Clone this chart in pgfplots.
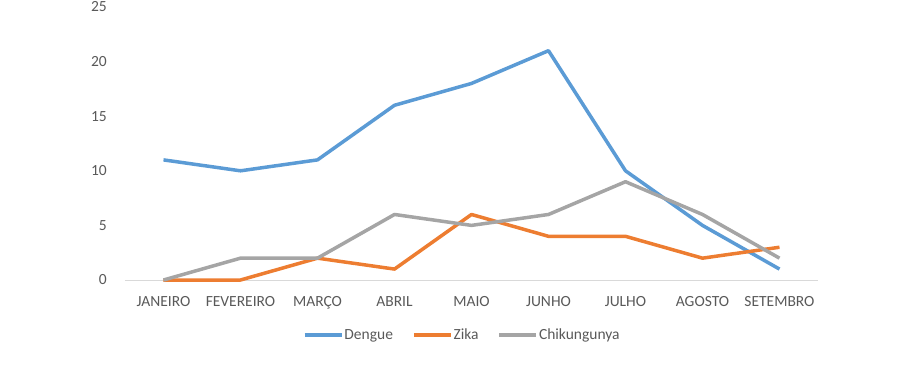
\documentclass[border=0pt]{standalone}
\usepackage{pgfplots}
\pgfplotsset{compat=1.18}
\usepackage{fontspec}
\setmainfont{Carlito}
\definecolor{cDengue}{HTML}{5B9BD5}
\definecolor{cZika}{HTML}{ED7D31}
\definecolor{cChik}{HTML}{A5A5A5}
\definecolor{tgray}{HTML}{595959}
\definecolor{agray}{HTML}{D9D9D9}
\begin{document}
\begin{tikzpicture}
\begin{axis}[
  at={(0pt,0pt)}, anchor=south west,
  scale only axis, width=693pt, height=273pt,
  xmin=-0.5, xmax=8.5, ymin=0, ymax=25,
  xtick={0,...,8},
  xticklabels={JANEIRO,FEVEREIRO,MARÇO,ABRIL,MAIO,JUNHO,JULHO,AGOSTO,SETEMBRO},
  ytick={0,5,10,15,20,25},
  major tick length=0pt,
  axis line style={draw=none},
  clip=false,
  /pgf/number format/assume math mode=true,
  tick label style={font=\fontsize{15.5}{18}\selectfont, text=tgray, inner sep=0pt},
  xticklabel style={anchor=base, yshift=-26pt},
  yticklabel style={anchor=east, xshift=-18pt},
  legend columns=3,
  legend style={draw=none, fill=none, at={(0.486,-0.2015)}, anchor=center,
    font=\fontsize{15.5}{18}\selectfont, text=tgray,
    nodes={inner sep=1pt},
    /tikz/every even column/.append style={column sep=18pt}},
  legend image code/.code={\draw[#1] (0pt,0pt) -- (37pt,0pt);},
  every axis plot/.append style={line width=3.5pt, line join=round},
]
\draw[agray, line width=1pt] (rel axis cs:0,0) -- (rel axis cs:1,0);
\addplot[cDengue, mark=none] coordinates {(0,11) (1,10) (2,11) (3,16) (4,18) (5,21) (6,10) (7,5) (8,1)};
\addlegendentry{Dengue}
\addplot[cZika, mark=none] coordinates {(0,0) (1,0) (2,2) (3,1) (4,6) (5,4) (6,4) (7,2) (8,3)};
\addlegendentry{Zika}
\addplot[cChik, mark=none] coordinates {(0,0) (1,2) (2,2) (3,6) (4,5) (5,6) (6,9) (7,6) (8,2)};
\addlegendentry{Chikungunya}
\end{axis}
\pgfresetboundingbox
\path[use as bounding box] (-125pt,-95pt) rectangle (792pt,280pt);
\end{tikzpicture}
\end{document}
